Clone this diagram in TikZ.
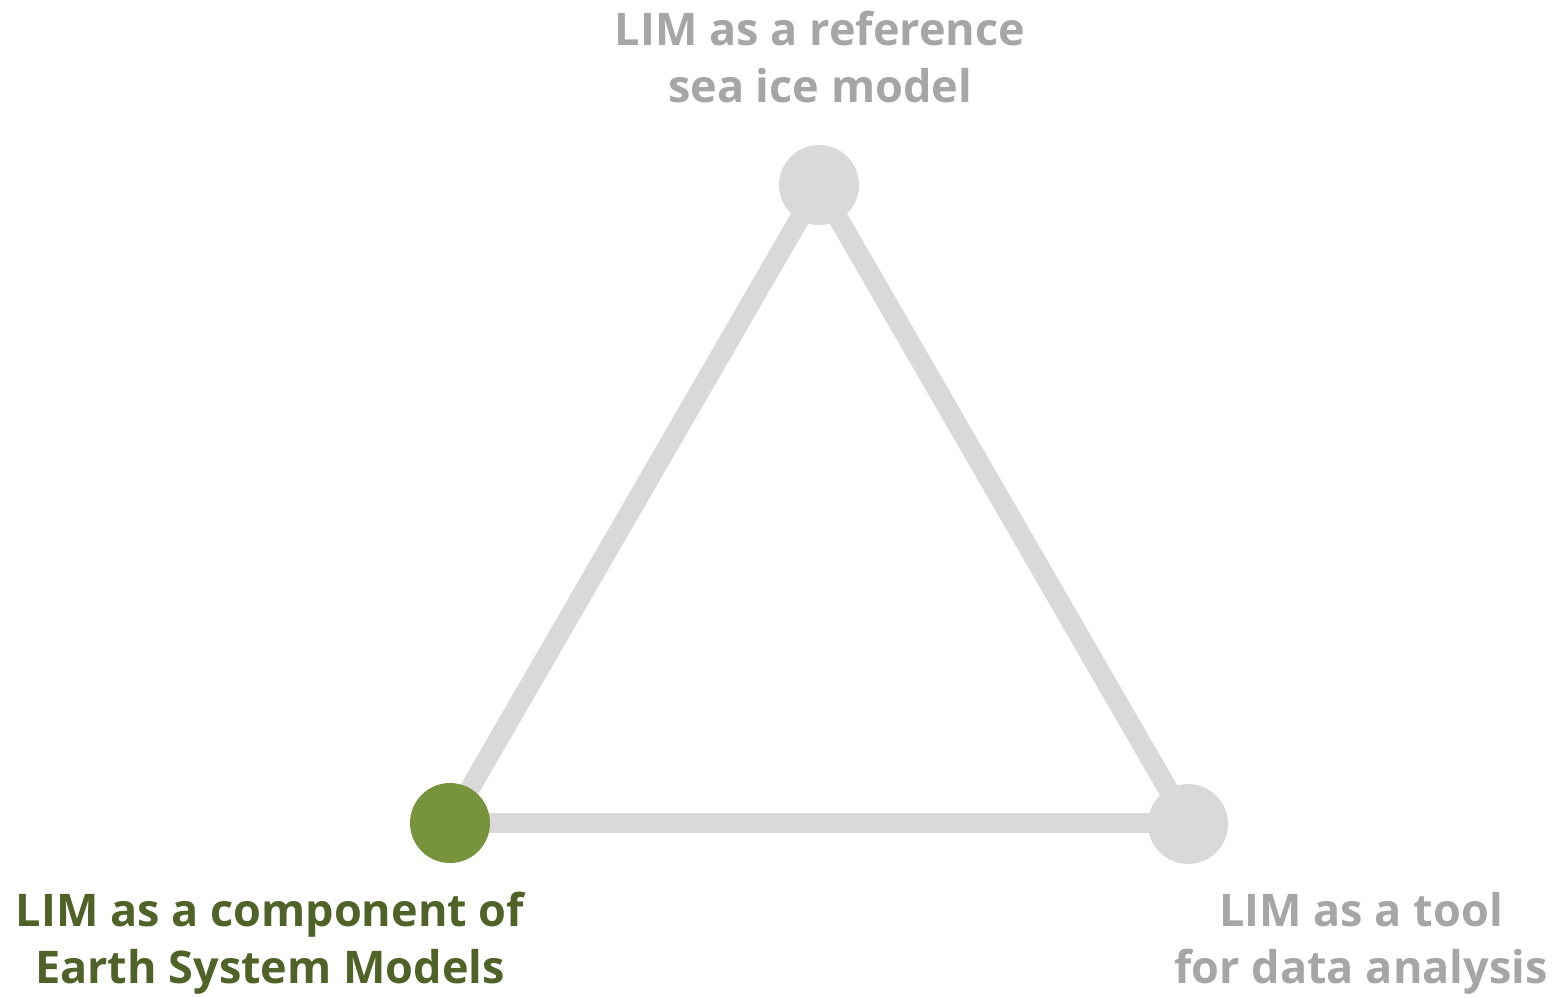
\documentclass[tikz,border=0pt]{standalone}
\usepackage{fontspec}
\setmainfont{Open Sans}
\usetikzlibrary{backgrounds}
\definecolor{lightgray}{HTML}{D9D9D9}
\definecolor{textgray}{HTML}{A6A6A6}
\definecolor{dotgreen}{HTML}{77933C}
\definecolor{textgreen}{HTML}{4F6228}
\tikzset{
  vertex/.style={circle, minimum size=80pt, inner sep=0pt, fill=lightgray},
  edge/.style={line width=20pt, draw=lightgray},
  label/.style={align=center, inner sep=0pt, font=\fontsize{45}{57}\selectfont\bfseries, text=textgray}
}
\begin{document}
\begin{tikzpicture}[x=1pt, y=-1pt]
\useasboundingbox (0,0) rectangle (1555,997);
\node[vertex, fill=dotgreen] (esm) at (450,823) {};
\node[vertex] (ref) at (819,185) {};
\node[vertex] (tool) at (1188,824) {};
\begin{pgfonlayer}{background}
\draw[edge] (esm.center) -- (ref.center);
\draw[edge] (ref.center) -- (tool.center);
\draw[edge] (esm.center) -- (esm.center -| tool.center);
\end{pgfonlayer}
\node[label] (reftext) at (820,57) {LIM as a reference\\sea ice model};
\node[label, text=textgreen] (esmtext) at (270,943) {LIM as a component of\\Earth System Models};
\node[label] (tooltext) at (1361,943) {LIM as a tool\\for data analysis};
\end{tikzpicture}
\end{document}
